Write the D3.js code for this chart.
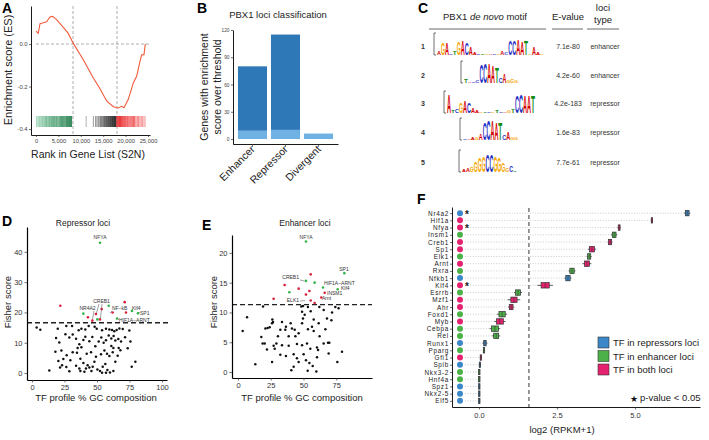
<!DOCTYPE html>
<html><head><meta charset="utf-8">
<script src="https://cdn.jsdelivr.net/npm/d3@7"></script>
<style>body{margin:0;background:#fff}svg{display:block}</style>
</head><body><svg id="c" width="709" height="440"></svg>
<script>
// ================= DATA =================
// Panel A: running enrichment score
const esRank  = [0,200,500,900,1630,2370,3100,3700,4600,6100,7200,8330,10560,12800,14290,15770,17260,18370,19130,19640,20600,21730,22470,23210,23590,24100,24400];
const esValue = [0.06,0.057,0.05,0.096,0.1,0.105,0.127,0.13,0.115,0.078,0.05,0.003,-0.074,-0.16,-0.21,-0.268,-0.295,-0.301,-0.293,-0.3,-0.26,-0.183,-0.152,-0.082,-0.051,-0.05,0.0];
const hitsGreen = [150,450,700,900,1150,1400,1600,1850,2100,2350,2500,2750,3000,3200,3450,3700,3900,4150,4400,4600,4850,5100,5300,5500,5700,5900,6100,6300,6500,6700,6850,7000,7150,7300,7500,7650,7800,7950];
const hitsBlack = [11200,12800,13300,13600,13900,14100,14400,14600,14800,15000,15150,15300,15450,15600,15750,15900,16050,16200,16350,16500,16650,16800,16950,17100,17250,17400,17550,17700,17850];
const hitsRed = [18050,18250,18450,18650,18850,19050,19250,19450,19650,19850,20050,20300,20500,20750,21000,21250,21500,21750,22000,22300,22600,22900,23200,23500,23800,24100,24350];
const aXTicks = [0,5000,10000,15000,20000,25000];
const aYTicks = [0,-0.2,-0.4];
const aCutoffs = [8260,18080];

// Panel B
const bCategories = ["Enhancer","Repressor","Divergent"];
const bTotal = [80,115,6];
const bLight = [9,10,6];
const bYTicks = [0,30,60,90,120];

// Panel C
const cMotifs = ["aGAcTGACAactgacgacCCAATgAag","taccCCAATcAggg","AtcGACAagtcgtcagtCCAAT","caagaCCAATcAgg","aagGGGCCGGGgCt"];
const cHeights = [
 [0.3,1.1,1.1,0.1,0.4,1.2,1.3,1.1,0.7,0.2,0.1,0.1,0.1,0.1,0.1,0.15,0.3,0.2,1.3,1.3,1.4,1.2,1.3,0.1,0.7,0.2,0.1],
 [0.3,0.1,0.15,0.2,1.7,1.8,1.8,1.6,1.5,0.5,0.8,0.2,0.3,0.2],
 [1.7,0.2,0.3,1.0,1.1,0.9,0.5,0.2,0.1,0.1,0.1,0.1,0.2,0.1,0.1,0.2,0.4,1.6,1.7,1.6,1.6,1.6],
 [0.1,0.1,0.2,0.2,0.6,1.6,1.8,1.8,1.6,1.6,0.5,0.7,0.2,0.2],
 [0.2,0.3,0.5,1.0,1.3,1.4,1.6,1.6,1.5,1.3,0.8,0.3,0.6,0.1]];
const cEvalues = ["7.1e-80","4.2e-60","4.2e-183","1.6e-83","7.7e-61"];
const cLociType = ["enhancer","enhancer","repressor","repressor","repressor"];

// Panel D (repressor loci)
const dBlackGC = [3.6,6.4,19.8,26.4,30.8,35.9,38.0,41.0,43.6,48.2,49.8,53.9,56.9,59.5,61.6,63.3,65.1,67.2,69.8,74.9,18.5,21.0,25.7,28.7,31.3,33.9,36.4,38.0,35.1,39.5,41.0,44.1,46.4,48.7,51.3,53.3,55.1,56.9,59.0,61.0,62.8,64.1,66.4,68.5,71.6,61.0,62.6,66.7,73.6,75.7,18.0,22.6,26.7,31.3,34.6,37.2,42.1,45.4,49.2,53.1,55.7,57.7,59.5,62.1,65.9,68.0,20.3,23.1,26.4,24.1,29.5,33.9,36.4,39.5,42.8,44.1,45.7,48.0,50.3,52.3,54.4,56.4,58.0,60.0,62.6,64.1,76.7,79.5,13.3,21.6,28.7,41.5,46.7,37.2,40.3,53.9,56.9];
const dBlackF = [15.0,14.3,14.6,15.5,15.5,14.1,14.6,14.4,15.5,15.3,14.6,14.1,14.6,14.4,14.2,13.8,14.2,14.7,14.5,14.0,11.6,10.1,12.8,11.7,12.7,11.3,9.5,8.5,8.3,10.9,12.0,10.5,11.9,8.8,10.4,11.7,10.0,10.8,12.4,11.4,12.2,10.7,11.2,10.4,11.8,8.9,8.3,8.3,8.2,10.4,7.0,7.4,5.9,6.9,6.7,4.7,6.4,6.9,5.4,6.2,7.4,6.4,5.6,6.9,5.7,7.5,4.0,2.6,2.0,4.6,4.2,2.4,1.5,3.3,2.6,1.8,0.7,3.7,1.2,0.7,2.1,3.0,1.0,0.2,0.7,3.7,2.1,3.7,0.8,1.8,0.6,1.5,2.1,0.7,0.4,0.1,0.1];
const dRedGC = [21.8,43.0,46.4,52.3,53.6,49.2,62.0,71.3,72.3];
const dRedF  = [22.2,18.4,17.3,17.7,21.1,19.5,20.0,23.4,20.0];
const dGreenGC = [39.5,50.3,59.0,65.4,76.9,81.5,52.3];
const dGreenF  = [19.6,17.7,22.2,18.0,20.5,19.7,43.0];
const dThreshold = 16.6;
const dXTicks = [0,25,50,75,100];
const dYTicks = [0,10,20,30,40];

// Panel E (enhancer loci)
const eBlackGC = [3.6,6.9,19.1,26.2,26.7,20.9,22.6,24.2,17.8,18.8,20.4,22.1,27.2,29.3,32.3,33.6,36.6,40.2,41.2,43.3,38.7,43.8,46.3,48.9,49.6,50.9,48.9,48.3,49.6,55.5,57.8,56.5,57.8,53.4,61.6,67.9,71.8,71.3,74.3,62.1,66.7,62.3,68.7,69.7,65.4,60.3,61.1,55.2,52.7,48.9,45.0,38.7,33.6,28.0,32.3,36.6,42.5,45.0,50.1,51.9,54.5,57.0,60.3,13.2,26.0,40.7,42.5,46.3,59.8,53.2,75.8,79.4,69.2,76.8,53.4,65.4,26.0,36.1,30.5];
const eBlackF = [6.9,9.2,11.0,8.8,8.4,7.3,7.4,7.5,5.9,4.8,4.8,3.8,4.4,4.8,7.1,8.4,7.6,8.2,7.3,7.1,6.0,6.0,6.5,8.2,9.0,9.6,10.1,11.0,11.1,10.2,8.8,7.6,6.9,7.2,8.2,9.0,10.0,8.7,10.9,10.9,7.2,6.0,4.9,4.9,4.8,4.1,3.7,3.9,4.8,4.5,4.7,4.4,4.5,3.9,2.9,2.7,3.0,2.3,3.0,2.0,1.5,1.0,2.5,1.3,1.7,0.3,0.9,1.7,0.1,0.2,1.7,3.4,3.1,10.7,10.9,10.4,8.2,7.1,6.0];
const eRedGC = [55.5,35.6,46.3,54.5,66.2,51.9,63.6,27.2,55.5,58.5];
const eRedF  = [16.4,14.6,14.0,13.6,13.3,13.0,12.5,12.3,12.0,11.6];
const eGreenGC = [51.9,81.2,51.9,58.5,64.9,39.2,76.1];
const eGreenF  = [21.9,16.6,15.3,15.0,14.2,13.4,13.9];
const eThreshold = 11.3;
const eXTicks = [0,25,50,75];
const eYTicks = [0,5,10,15,20];

// Panel F
const fGenes = ["Nr4a2","Hif1a","Nfya","Insm1","Creb1","Sp1","Elk1","Arnt","Rxra","Nfkb1","Klf4","Esrrb","Mzf1","Ahr","Foxd1","Myb","Cebpa","Rel","Runx1","Pparg","Gfi1","Spib","Nkx3-2","Hnf4a","Spz1","Nkx2-5","Elf5"];
const fGroup = ["rep","both","both","enh","both","both","enh","both","enh","rep","both","enh","both","both","enh","both","enh","enh","rep","enh","both","rep","enh","enh","rep","rep","rep"];
const fMedian = [6.67,5.54,4.49,4.33,4.2,3.62,3.53,3.46,2.98,2.85,2.12,1.25,1.12,1.03,0.74,0.67,0.51,0.55,0.19,0.16,0.06,0.03,0.01,0.01,0.01,0.01,0.01];
const fIqrHalf = [0.06,0.02,0.03,0.06,0.05,0.08,0.05,0.08,0.07,0.07,0.13,0.08,0.1,0.06,0.1,0.11,0.11,0.08,0.04,0.02,0.02,0.01,0.01,0.01,0.01,0.01,0.01];
const fWhiskHalf = [0.1,0.03,0.05,0.1,0.08,0.13,0.08,0.14,0.11,0.11,0.25,0.13,0.2,0.1,0.16,0.18,0.17,0.13,0.08,0.03,0.03,0.02,0.02,0.02,0.02,0.02,0.02];
const fSignificant = ["Nr4a2","Nfya","Klf4"];
const fThreshold = 1.6;
const fXTicks = [0,2.5,5];
const fLegend = [["rep","TF in repressors loci"],["enh","TF in enhancer loci"],["both","TF in both loci"]];

// ================= DRAWING =================
const FONT = "Liberation Sans, Arial, Helvetica, sans-serif";
const svg = d3.select("#c");
function txt(g,x,y,s,o={}){
  const t=g.append("text").attr("x",x).attr("y",y).text(s)
   .attr("font-family",FONT).attr("font-size",o.size||8).attr("fill",o.fill||"#000")
   .attr("text-anchor",o.anchor||"start");
  if(o.weight)t.attr("font-weight",o.weight);
  if(o.rotate!=null)t.attr("transform",`rotate(${o.rotate},${x},${y})`);
  return t;
}
function styleAxis(g,size,col){
  g.selectAll("text").attr("font-family",FONT).attr("font-size",size).attr("fill",col||"#333");
  g.select(".domain").attr("stroke","#000").attr("stroke-width",0.9);
  g.selectAll(".tick line").attr("stroke","#333").attr("stroke-width",0.7);
}
// panel letters
[["A",2,13],["B",197,13],["C",418,13],["D",2,226],["E",202,230],["F",417,204]].forEach(d=>txt(svg,d[1],d[2],d[0],{size:14,weight:"bold"}));

// ---- Panel A ----
{
 const g=svg.append("g");
 const x=d3.scaleLinear([-1116,25446],[31,150]);
 const y=d3.scaleLinear([-0.428,0.179],[135,6]);
 aCutoffs.forEach(r=>g.append("line").attr("x1",x(r)).attr("x2",x(r)).attr("y1",6).attr("y2",135)
   .attr("stroke","#777").attr("stroke-width",0.6).attr("stroke-dasharray","3,2"));
 g.append("line").attr("x1",x(0)).attr("x2",x(25000)+1).attr("y1",y(0)).attr("y2",y(0))
   .attr("stroke","#777").attr("stroke-width",0.6).attr("stroke-dasharray","3,2");
 const gc=d3.scaleLinear([0,8000],["#8fd1ac","#1f7a48"]);
 const bc=d3.scaleLinear([11000,14500,18000],["#aaaaaa","#777777","#111111"]);
 const rc=d3.scaleLinear([18000,21000,24500],["#e41a1c","#ef3b3b","#f7a0a0"]);
 const bar=(arr,col)=>g.selectAll(null).data(arr).enter().append("line")
   .attr("x1",d=>x(d)).attr("x2",d=>x(d)).attr("y1",116).attr("y2",127)
   .attr("stroke",d=>col(d)).attr("stroke-width",0.9);
 bar(hitsGreen,gc);bar(hitsBlack,bc);bar(hitsRed,rc);
 g.append("path").datum(d3.zip(esRank,esValue))
  .attr("d",d3.line().x(d=>x(d[0])).y(d=>y(d[1])))
  .attr("fill","none").attr("stroke","#f15a3a").attr("stroke-width",1.1);
 const ax=g.append("g").attr("transform","translate(0,135)")
  .call(d3.axisBottom(x).tickValues(aXTicks).tickSize(2).tickSizeOuter(0).tickPadding(1.5));
 styleAxis(ax,5.8,"#444");
 const ay=g.append("g").attr("transform","translate(31,0)")
  .call(d3.axisLeft(y).tickValues(aYTicks).tickFormat(d=>d.toFixed(1)).tickSize(2).tickSizeOuter(0).tickPadding(1.5));
 styleAxis(ay,5.8,"#444");
 txt(g,88,158,"Rank in Gene List (S2N)",{size:10.5,anchor:"middle",fill:"#222"});
 txt(g,12,70,"Enrichment score (ES)",{size:11,anchor:"middle",rotate:-90,fill:"#222"});
}

// ---- Panel B ----
{
 const g=svg.append("g");
 const x=d3.scaleBand(bCategories,[233,338]).paddingInner(0.12).paddingOuter(0.15);
 const y=d3.scaleLinear([-5.5,120],[144,30]);
 g.selectAll(null).data(bCategories).enter().append("rect")
  .attr("x",d=>x(d)).attr("width",x.bandwidth())
  .attr("y",(d,i)=>y(bTotal[i])).attr("height",(d,i)=>y(bLight[i])-y(bTotal[i]))
  .attr("fill","#2f78b8");
 g.selectAll(null).data(bCategories).enter().append("rect")
  .attr("x",d=>x(d)).attr("width",x.bandwidth())
  .attr("y",(d,i)=>y(bLight[i])).attr("height",(d,i)=>y(0)-y(bLight[i]))
  .attr("fill","#6eb1e2");
 const ay=g.append("g").attr("transform","translate(233,0)")
  .call(d3.axisLeft(y).tickValues(bYTicks).tickSize(2).tickSizeOuter(0).tickPadding(1.5));
 styleAxis(ay,4.8,"#444");
 const ax=g.append("g").attr("transform","translate(0,144)")
  .call(d3.axisBottom(x).tickSize(3).tickSizeOuter(0).tickFormat(""));
 styleAxis(ax,5);
 bCategories.forEach(c=>{const cx=x(c)+x.bandwidth()/2+3; txt(g,cx,150,c,{size:10.5,anchor:"end",rotate:-45,fill:"#222"});});
 txt(g,278,18,"PBX1 loci classification",{size:9.5,anchor:"middle",fill:"#222"});
 txt(g,208,87,"Genes with enrichment",{size:10.5,anchor:"middle",rotate:-90,fill:"#222"});
 txt(g,221,87,"score over threshold",{size:10.5,anchor:"middle",rotate:-90,fill:"#222"});
}

// ---- Panel C ----
{
 const g=svg.append("g");
 const head=g.append("text").attr("x",485).attr("y",20).attr("text-anchor","middle")
   .attr("font-family",FONT).attr("font-size",9.5).attr("fill","#222");
 head.append("tspan").text("PBX1 ");
 head.append("tspan").attr("font-style","italic").text("de novo");
 head.append("tspan").text(" motif");
 txt(g,568,20,"E-value",{size:9.5,anchor:"middle",fill:"#222"});
 txt(g,603,11,"loci",{size:9.5,anchor:"middle",fill:"#222"});
 txt(g,603,23,"type",{size:9.5,anchor:"middle",fill:"#222"});
 [[429,546],[552,583],[587,619]].forEach(s=>g.append("line").attr("x1",s[0]).attr("x2",s[1]).attr("y1",29).attr("y2",29).attr("stroke","#444").attr("stroke-width",0.8));
 const colors={A:"#d40000",C:"#1f2fc4",G:"#f5a500",T:"#128a12"};
 const layout=[{x:437,base:55,w:3.96,ry:46},{x:464,base:83,w:3.86,ry:75},{x:447,base:113,w:4.0,ry:103},{x:463,base:140,w:3.93,ry:132},{x:462,base:172,w:3.93,ry:162}];
 const bitPx=11;
 cMotifs.forEach((m,i)=>{
  const L=layout[i];
  g.append("path").attr("d",`M${L.x-1},${L.base-22}H${L.x-3}V${L.base}H${L.x-1}`).attr("fill","none").attr("stroke","#333").attr("stroke-width",0.7);
  m.split("").forEach((ch,j)=>{
   const C=ch.toUpperCase(), h=cHeights[i][j]*bitPx, x0=L.x+j*L.w;
   if(h<1){g.append("rect").attr("x",x0+0.5).attr("y",L.base-Math.max(h,0.8)).attr("width",L.w-1).attr("height",Math.max(h,0.8)).attr("fill",colors[C]).attr("opacity",0.8);return;}
   const t=g.append("text").text(C).attr("font-family",FONT).attr("font-weight","bold").attr("font-size",100).attr("fill",colors[C]);
   const bb=t.node().getBBox();
   const sx=L.w/bb.width, sy=h/72;
   t.attr("transform",`translate(${x0-bb.x*sx},${L.base}) scale(${sx},${sy})`);
  });
  txt(g,423,L.ry+2.5,String(i+1),{size:7,weight:"bold",anchor:"middle",fill:"#333"});
  txt(g,568,L.ry+2.5,cEvalues[i],{size:7,anchor:"middle",fill:"#333"});
  txt(g,605,L.ry+2.5,cLociType[i],{size:7,anchor:"middle",fill:"#333"});
 });
}

// ---- Scatter panels D / E ----
function scatter(cfg){
 const g=svg.append("g");
 const x=d3.scaleLinear(cfg.xd,cfg.xr), y=d3.scaleLinear(cfg.yd,cfg.yr);
 g.append("line").attr("x1",cfg.xr[0]).attr("x2",cfg.dashEnd).attr("y1",y(cfg.thr)).attr("y2",y(cfg.thr))
  .attr("stroke","#222").attr("stroke-width",1.3).attr("stroke-dasharray","5,3");
 const pts=(gcs,fs,col,r)=>g.selectAll(null).data(gcs).enter().append("circle")
  .attr("cx",d=>x(d)).attr("cy",(d,i)=>y(fs[i])).attr("r",r).attr("fill",col);
 pts(cfg.bgc,cfg.bf,"#111",1.25);
 pts(cfg.rgc,cfg.rf,"#d8203a",1.3);
 pts(cfg.ggc,cfg.gf,"#33b44a",1.3);
 const ax=g.append("g").attr("transform",`translate(0,${cfg.yr[0]})`)
  .call(d3.axisBottom(x).tickValues(cfg.xt).tickSize(2.5).tickSizeOuter(0).tickPadding(2));
 styleAxis(ax,7.5,"#333");
 const ay=g.append("g").attr("transform",`translate(${cfg.xr[0]},0)`)
  .call(d3.axisLeft(y).tickValues(cfg.yt).tickSize(2.5).tickSizeOuter(0).tickPadding(2));
 styleAxis(ay,7.5,"#333");
 ax.select(".domain").attr("stroke-width",1.2); ay.select(".domain").attr("stroke-width",1.2);
 txt(g,cfg.titleX,226,cfg.title,{size:8.5,anchor:"middle",fill:"#222"});
 txt(g,cfg.xtitleX,401,"TF profile % GC composition",{size:9.5,anchor:"middle",fill:"#222"});
 txt(g,cfg.ytitleX,302,"Fisher score",{size:9.5,anchor:"middle",rotate:-90,fill:"#222"});
 cfg.labels.forEach(l=>txt(g,l[1],l[2],l[0],{size:5,anchor:l[3]||"start",fill:"#333"}));
 cfg.leaders.forEach(l=>g.append("line").attr("x1",l[0]).attr("y1",l[1]).attr("x2",l[2]).attr("y2",l[3]).attr("stroke","#444").attr("stroke-width",0.5));
}
scatter({xd:[-3.85,103.85],xr:[27,167],yd:[-2.3,48.2],yr:[380,227],thr:dThreshold,dashEnd:170,
 bgc:dBlackGC,bf:dBlackF,rgc:dRedGC,rf:dRedF,ggc:dGreenGC,gf:dGreenF,xt:dXTicks,yt:dYTicks,
 title:"Repressor loci",titleX:83,xtitleX:96,ytitleX:11,
 labels:[["NFYA",100,239,"middle"],["CREB1",101.5,302.5,"middle"],["NR4A2",87.5,310,"middle"],["NF−kB",112,310],["Klf4",132,310],["SP1",140,314.5],["HIF1A−ARNT",119,321.5]],
 leaders:[[99,304,96.5,313],[102,304,100.5,318],[94,311,92.5,319.5],[112,311,110,313],[138.5,313,140,312.5],[119,320,117.5,318.5]]});
scatter({xd:[-4.58,102.3],xr:[232,372],yd:[-1,23],yr:[378,235],thr:eThreshold,dashEnd:372,
 bgc:eBlackGC,bf:eBlackF,rgc:eRedGC,rf:eRedF,ggc:eGreenGC,gf:eGreenF,xt:eXTicks,yt:eYTicks,
 title:"Enhancer loci",titleX:305,xtitleX:302,ytitleX:217,
 labels:[["NFYA",306,238.5,"middle"],["SP1",344,270.5,"middle"],["CREB1",299,279,"end"],["HIF1A−ARNT",324,285],["Klf4",341,290],["INSM1",327,295],["Arnt",322,300],["ELK1",299,302,"end"]],
 leaders:[[300,280,304.5,281],[300,301,305,300.5]]});

// ---- Panel F ----
{
 const g=svg.append("g");
 const x=d3.scaleLinear([-0.865,7.08],[452,700]);
 const y=d3.scalePoint(fGenes,[207,407]).padding(0.85);
 const col={rep:"#3b87c8",enh:"#4cb148",both:"#e5226f"};
 fGenes.forEach((gn,i)=>g.append("line").attr("x1",465).attr("x2",x(fMedian[i])).attr("y1",y(gn)).attr("y2",y(gn))
   .attr("stroke","#aaa").attr("stroke-width",0.6).attr("stroke-dasharray","1,1.6"));
 g.append("line").attr("x1",x(fThreshold)).attr("x2",x(fThreshold)).attr("y1",208).attr("y2",407)
  .attr("stroke","#333").attr("stroke-width",1).attr("stroke-dasharray","4,3");
 fGenes.forEach((gn,i)=>{
  const cy=y(gn),m=fMedian[i];
  g.append("line").attr("x1",x(m-fWhiskHalf[i])).attr("x2",x(m+fWhiskHalf[i])).attr("y1",cy).attr("y2",cy).attr("stroke","#333").attr("stroke-width",0.8);
  const x0=x(m-fIqrHalf[i]),x1=x(m+fIqrHalf[i]),w=Math.max(x1-x0,1.4);
  g.append("rect").attr("x",(x0+x1)/2-w/2).attr("width",w).attr("y",cy-2.7).attr("height",5.4)
   .attr("fill",col[fGroup[i]]).attr("stroke","#333").attr("stroke-width",0.7);
  g.append("line").attr("x1",x(m)).attr("x2",x(m)).attr("y1",cy-2.7).attr("y2",cy+2.7).attr("stroke","#333").attr("stroke-width",0.6);
  g.append("circle").attr("cx",460).attr("cy",cy).attr("r",3).attr("fill",col[fGroup[i]]);
  if(fSignificant.includes(gn)) txt(g,467,cy+4.5,"*",{size:10,weight:"bold",anchor:"middle",fill:"#222"});
 });
 const ay=g.append("g").attr("transform","translate(452,0)")
  .call(d3.axisLeft(y).tickSize(2).tickSizeOuter(0).tickPadding(1));
 styleAxis(ay,6.4,"#222");
 ay.selectAll("text").attr("letter-spacing",0.7);
 const ax=g.append("g").attr("transform","translate(0,407)")
  .call(d3.axisBottom(x).tickValues(fXTicks).tickFormat(d3.format(".1f")).tickSize(2.5).tickSizeOuter(0).tickPadding(3));
 styleAxis(ax,7.5,"#333");
 txt(g,562,433,"log2 (RPKM+1)",{size:9.5,anchor:"middle",fill:"#222"});
 fLegend.forEach((l,i)=>{
  g.append("rect").attr("x",598).attr("y",337+i*13.5).attr("width",11).attr("height",11)
   .attr("fill",col[l[0]]).attr("stroke","#333").attr("stroke-width",0.6);
  txt(g,613,346+i*13.5,l[1],{size:9.5,fill:"#222"});
 });
 txt(g,630,402,"★",{size:9,fill:"#111"});
 txt(g,640,401,"p-value < 0.05",{size:9.5,fill:"#222"});
}
</script></body></html>
